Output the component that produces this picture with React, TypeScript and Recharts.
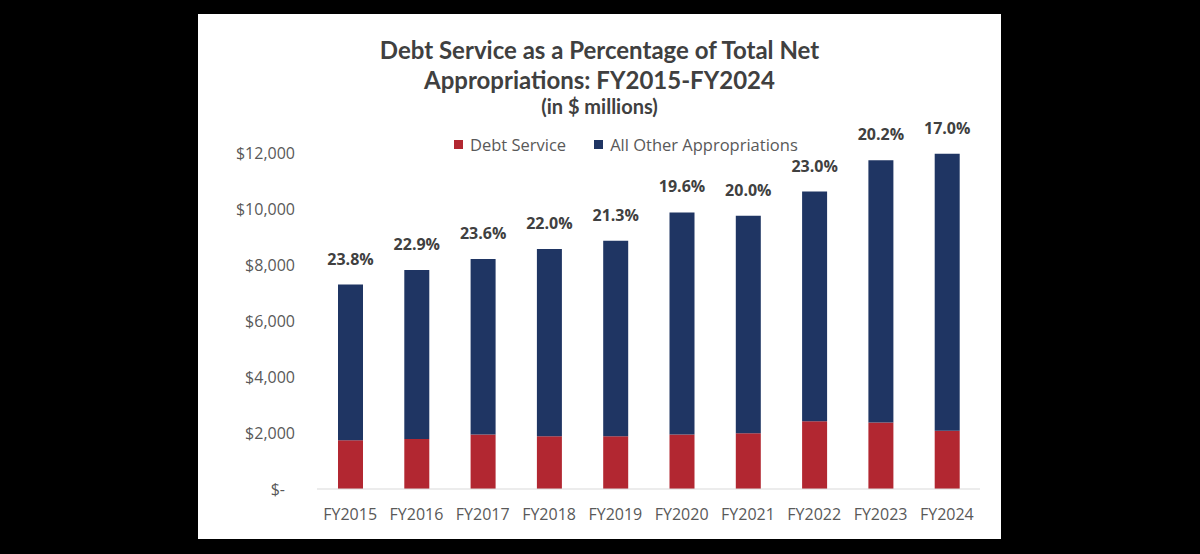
import React from "react";
import { BarChart, Bar, XAxis, YAxis, Legend, LabelList } from "recharts";

const categories = ["FY2015", "FY2016", "FY2017", "FY2018", "FY2019", "FY2020", "FY2021", "FY2022", "FY2023", "FY2024"];
const debtService = [1745, 1790, 1950, 1887, 1887, 1947, 1990, 2420, 2375, 2077];
const allOther = [5555, 6034, 6265, 6684, 6981, 7929, 7768, 8204, 9366, 9900];
const pctLabels = ["23.8%", "22.9%", "23.6%", "22.0%", "21.3%", "19.6%", "20.0%", "23.0%", "20.2%", "17.0%"];
const yTicks = [0, 2000, 4000, 6000, 8000, 10000, 12000];

const data = categories.map((c, i) => ({
  name: c,
  debt: debtService[i],
  other: allOther[i],
  pct: pctLabels[i],
}));

const RED = "#B22731";
const NAVY = "#1F3563";
const TICK = "#595959";
const TITLE = "#404040";

const YTick = (props: any) => {
  const { x, y, payload } = props;
  const v = payload.value;
  const label = v === 0 ? "$-" : "$" + v.toLocaleString("en-US");
  return (
    <text
      x={x}
      y={y}
      dx={v === 0 ? -10 : 0}
      textAnchor="end"
      dominantBaseline="central"
      fontFamily="Open Sans"
      fontSize={16}
      fill={TICK}
    >
      {label}
    </text>
  );
};

const order: Record<string, number> = { debt: 0, other: 1 };

const LegendContent = (props: any) => {
  const items = [...(props.payload || [])].sort(
    (a: any, b: any) => (order[a.dataKey] ?? 0) - (order[b.dataKey] ?? 0)
  );
  return (
    <div style={{ display: "flex", alignItems: "center", fontFamily: "Open Sans", fontSize: 16.5, color: TICK }}>
      {items.map((p: any, i: number) => (
        <div key={i} style={{ display: "flex", alignItems: "center", marginRight: 28 }}>
          <div style={{ width: 9, height: 9, background: p.color, marginRight: 7 }} />
          <span>{p.value}</span>
        </div>
      ))}
    </div>
  );
};

export default function App() {
  return (
    <div style={{ position: "absolute", left: 0, top: 0, width: 1200, height: 554, background: "#000" }}>
      <div style={{ position: "absolute", left: 198, top: 14, width: 803, height: 525, background: "#fff" }}>
        <div
          style={{
            position: "absolute",
            left: 0,
            top: 21,
            width: 803,
            textAlign: "center",
            fontFamily: "Lato",
            fontWeight: 700,
            color: TITLE,
            lineHeight: "30px",
            fontSize: 24,
          }}
        >
          <div>Debt Service as a Percentage of Total Net</div>
          <div>Appropriations: FY2015-FY2024</div>
          <div style={{ fontSize: 20, lineHeight: "22px" }}>(in $ millions)</div>
        </div>
        <div style={{ position: "absolute", left: 0, top: 0 }}>
          <BarChart
            width={803}
            height={525}
            data={data}
            margin={{ top: 116, right: 21, bottom: 20, left: 0 }}
            barSize={25}
          >
            <XAxis
              dataKey="name"
              tickLine={false}
              tickSize={0}
              tickMargin={20}
              height={30}
              axisLine={{ stroke: "#D9D9D9", strokeWidth: 1 }}
              tick={{ fontFamily: "Open Sans", fontSize: 16, fill: TICK }}
              interval={0}
            />
            <YAxis
              width={119}
              domain={[0, 12000]}
              ticks={yTicks}
              axisLine={false}
              tickLine={false}
              tickSize={0}
              tickMargin={22}
              tick={<YTick />}
            />
            <Legend
              verticalAlign="top"
              content={<LegendContent />}
              wrapperStyle={{ position: "absolute", left: 256, top: 119, width: "auto" }}
            />
            <Bar dataKey="debt" name="Debt Service" stackId="a" fill={RED} isAnimationActive={false} />
            <Bar dataKey="other" name="All Other Appropriations" stackId="a" fill={NAVY} isAnimationActive={false}>
              <LabelList
                dataKey="pct"
                position="top"
                offset={20}
                style={{ fontFamily: "Open Sans", fontSize: 16, fontWeight: 700, fill: TITLE }}
              />
            </Bar>
          </BarChart>
        </div>
      </div>
    </div>
  );
}
